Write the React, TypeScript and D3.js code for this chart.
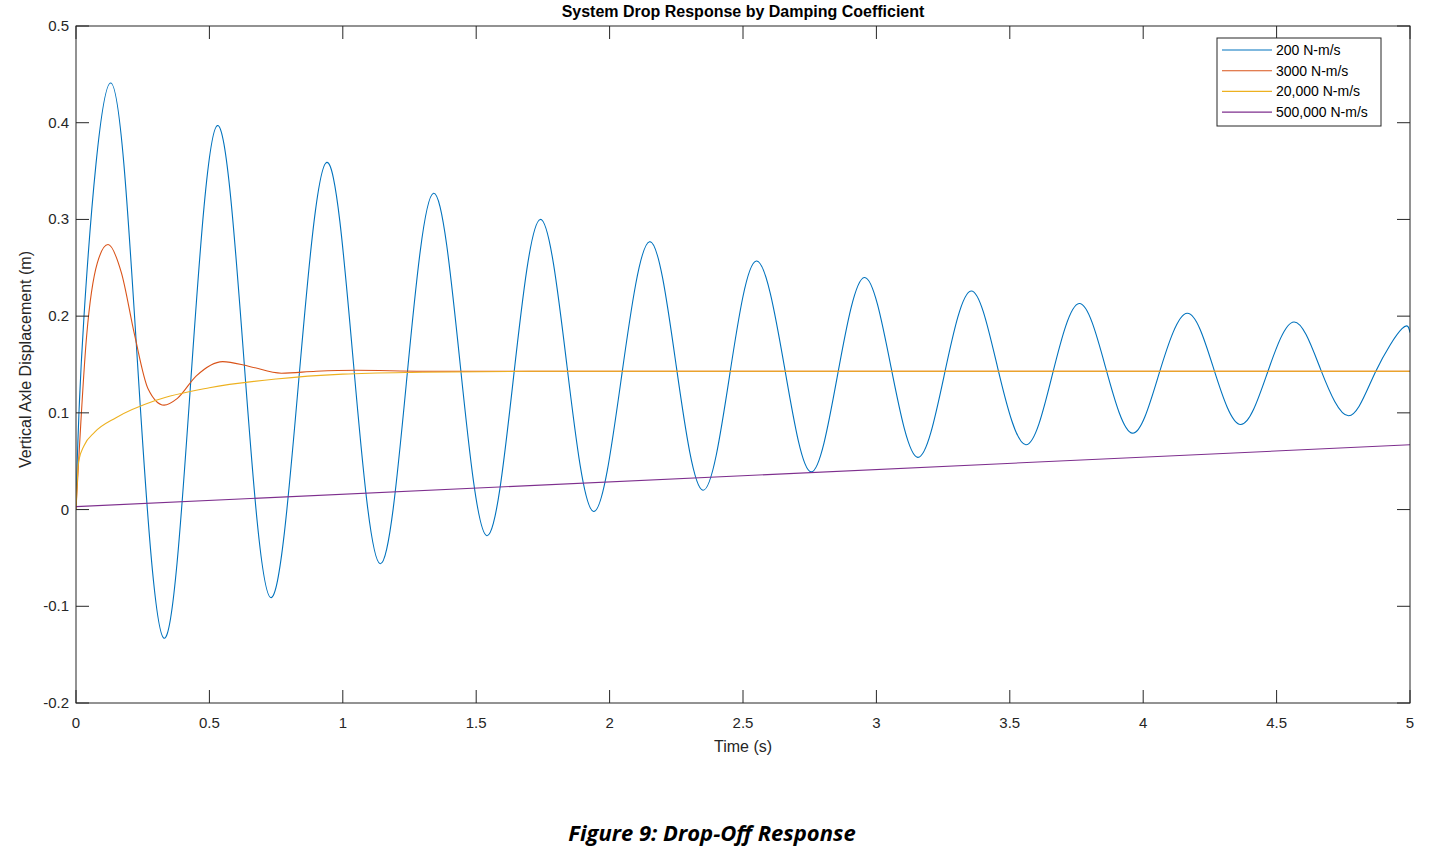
import React from "react";
import * as d3 from "d3";

const xTicks = [0, 0.5, 1, 1.5, 2, 2.5, 3, 3.5, 4, 4.5, 5];
const yTicks = [-0.2, -0.1, 0, 0.1, 0.2, 0.3, 0.4, 0.5];
const legendLabels = ["200 N-m/s", "3000 N-m/s", "20,000 N-m/s", "500,000 N-m/s"];
const colors = ["#0072BD", "#D95319", "#EDB120", "#7E2F8E"];

const blueT = [0, 0.03, 0.13, 0.23, 0.33, 0.43, 0.53, 0.63, 0.73, 0.835, 0.94, 1.04, 1.14, 1.24, 1.34, 1.44, 1.54, 1.64, 1.74, 1.84, 1.94, 2.045, 2.15, 2.25, 2.35, 2.45, 2.55, 2.655, 2.755, 2.855, 2.955, 3.055, 3.155, 3.255, 3.355, 3.455, 3.56, 3.66, 3.76, 3.86, 3.96, 4.06, 4.165, 4.265, 4.365, 4.465, 4.565, 4.665, 4.77, 4.87, 4.97, 5.0];
const blueV = [0, 0.2, 0.441, 0.154, -0.133, 0.132, 0.397, 0.153, -0.091, 0.134, 0.359, 0.151, -0.056, 0.136, 0.327, 0.15, -0.027, 0.137, 0.300, 0.149, -0.002, 0.138, 0.277, 0.148, 0.020, 0.139, 0.257, 0.148, 0.039, 0.14, 0.240, 0.147, 0.054, 0.14, 0.226, 0.146, 0.067, 0.14, 0.213, 0.146, 0.079, 0.141, 0.203, 0.145, 0.088, 0.141, 0.194, 0.145, 0.097, 0.142, 0.187, 0.183];
const redT = [0, 0.04, 0.08, 0.12, 0.17, 0.22, 0.27, 0.33, 0.38, 0.45, 0.55, 0.65, 0.77, 0.9, 1.05, 1.3, 5];
const redV = [0, 0.18, 0.255, 0.274, 0.245, 0.18, 0.125, 0.108, 0.115, 0.138, 0.153, 0.148, 0.141, 0.143, 0.144, 0.143, 0.143];
const yelT = [0, 0.01, 0.03, 0.07, 0.15, 0.3, 0.5, 0.75, 1.0, 1.3, 1.7, 5];
const yelV = [0, 0.05, 0.066, 0.08, 0.095, 0.113, 0.126, 0.135, 0.14, 0.142, 0.143, 0.143];
const purT = [0, 5];
const purV = [0.003, 0.067];

export default function App() {
  const W = 1430, H = 857;
  const L = 76, R = 1410, T = 26, B = 703;
  const x = d3.scaleLinear().domain([0, 5]).range([L, R]);
  const y = d3.scaleLinear().domain([-0.2, 0.5]).range([B, T]);
  const series = [
    { t: blueT, v: blueV, c: d3.curveNatural },
    { t: redT, v: redV, c: d3.curveMonotoneX },
    { t: yelT, v: yelV, c: d3.curveMonotoneX },
    { t: purT, v: purV, c: d3.curveLinear },
  ];
  const font = "'Liberation Sans', Arial, sans-serif";
  return (
    <svg width={W} height={H} style={{ position: "absolute", left: 0, top: 0, background: "#fff" }}>
      <defs><clipPath id="cp"><rect x={L} y={T} width={R - L} height={B - T} /></clipPath></defs>
      <g clipPath="url(#cp)">
        {series.map((s, i) => {
          const pts = s.t.map((t, j) => [t, s.v[j]] as [number, number]);
          const line = d3.line<[number, number]>().x(d => x(d[0])).y(d => y(d[1])).curve(s.c);
          return <path key={i} d={line(pts) || ""} fill="none" stroke={colors[i]} strokeWidth={1.1} />;
        })}
      </g>
      <rect x={L} y={T} width={R - L} height={B - T} fill="none" stroke="#262626" strokeWidth={1} />
      {xTicks.map(t => (
        <g key={t}>
          <line x1={x(t)} x2={x(t)} y1={B} y2={B - 13} stroke="#262626" />
          <line x1={x(t)} x2={x(t)} y1={T} y2={T + 13} stroke="#262626" />
          <text x={x(t)} y={B + 25} textAnchor="middle" fontFamily={font} fontSize={15} fill="#262626">{t}</text>
        </g>
      ))}
      {yTicks.map(t => (
        <g key={t}>
          <line x1={L} x2={L + 13} y1={y(t)} y2={y(t)} stroke="#262626" />
          <line x1={R} x2={R - 13} y1={y(t)} y2={y(t)} stroke="#262626" />
          <text x={L - 7} y={y(t) + 5} textAnchor="end" fontFamily={font} fontSize={15} fill="#262626">{t}</text>
        </g>
      ))}
      <text x={(L + R) / 2} y={752} textAnchor="middle" fontFamily={font} fontSize={16} fill="#262626">Time (s)</text>
      <text transform={`translate(31,${(T + B) / 2 - 5}) rotate(-90)`} textAnchor="middle" fontFamily={font} fontSize={16} fill="#262626">Vertical Axle Displacement (m)</text>
      <text x={(L + R) / 2} y={17} textAnchor="middle" fontFamily={font} fontSize={16} fontWeight="bold" fill="#000">System Drop Response by Damping Coefficient</text>
      <rect x={1217} y={38} width={164} height={88} fill="#fff" stroke="#262626" />
      {legendLabels.map((lb, i) => (
        <g key={lb}>
          <line x1={1222} x2={1272} y1={50 + i * 20.7} y2={50 + i * 20.7} stroke={colors[i]} strokeWidth={1.1} />
          <text x={1276} y={55 + i * 20.7} fontFamily={font} fontSize={14} fill="#000">{lb}</text>
        </g>
      ))}
      <text x={712} y={841} textAnchor="middle" fontFamily="'Open Sans', sans-serif" fontSize={22} fontWeight="bold" fontStyle="italic" fill="#000">Figure 9: Drop-Off Response</text>
    </svg>
  );
}
